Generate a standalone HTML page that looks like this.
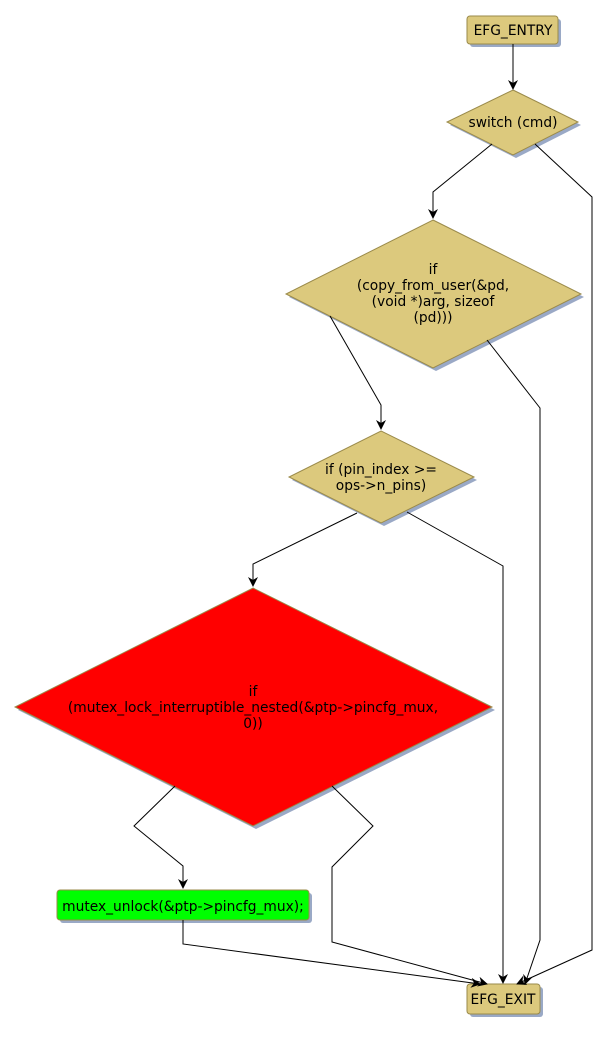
<!DOCTYPE html>
<html><head><style>body{margin:0;background:#fff}</style></head><body>
<svg width="607" height="1033" xmlns="http://www.w3.org/2000/svg" font-family="DejaVu Sans, sans-serif" font-size="13.8">
<defs><marker id="a" markerWidth="10" markerHeight="10" refX="9" refY="5" orient="auto" markerUnits="userSpaceOnUse"><path d="M0,0 L10,5 L0,10 L3,5 z" fill="#000"/></marker></defs>
<g fill="#9aa9c6">
<rect x="470" y="19" width="91" height="28" rx="3"/>
<polygon points="516,93 581,125 516,158 450,125"/>
<polygon points="436,223 584,297 436,371 289,297"/>
<polygon points="384,434 477,480 384,526 292,480"/>
<polygon points="256,591 495,710 256,829 18,710"/>
<rect x="60" y="893" width="252" height="30" rx="3"/>
<rect x="470" y="987" width="73" height="30" rx="3"/>
</g>
<g stroke="#9a8a4a" fill="#dcc97d">
<rect x="467" y="16" width="91" height="28" rx="3"/>
<polygon points="513,90 578,122 513,155 447,122"/>
<polygon points="433,220 581,294 433,368 286,294"/>
<polygon points="381,431 474,477 381,523 289,477"/>
<polygon points="253,588 492,707 253,826 15,707" fill="#ff0000"/>
<rect x="57" y="890" width="252" height="30" rx="3" fill="#00ff00"/>
<rect x="467" y="984" width="73" height="30" rx="3"/>
</g>
<g stroke="#000" fill="none" marker-end="url(#a)">
<path d="M513,44 L513,89"/>
<path d="M492,144 L433,192 L433,218"/>
<path d="M535,144 L592,197 L592,950 L517,984"/>
<path d="M330,316 L381,405 L381,429"/>
<path d="M487,340 L540,408 L540,940 L525,984"/>
<path d="M357,513 L253,564 L253,586"/>
<path d="M407,512 L503,566 L503,983"/>
<path d="M175,786 L134,826 L183,866 L183,888"/>
<path d="M332,786 L373,826 L332,867 L332,942 L487,984"/>
<path d="M183,920 L183,944 L480,984"/>
</g>
<g text-anchor="middle" fill="#000">
<text x="513" y="35">EFG_ENTRY</text>
<text x="513" y="127">switch (cmd)</text>
<text x="433" y="274">if</text>
<text x="433" y="290">(copy_from_user(&amp;pd,</text>
<text x="433" y="306">(void *)arg, sizeof</text>
<text x="433" y="322">(pd)))</text>
<text x="381" y="474">if (pin_index &gt;=</text>
<text x="381" y="490">ops-&gt;n_pins)</text>
<text x="253" y="696">if</text>
<text x="253" y="712">(mutex_lock_interruptible_nested(&amp;ptp-&gt;pincfg_mux,</text>
<text x="253" y="728">0))</text>
<text x="183" y="911">mutex_unlock(&amp;ptp-&gt;pincfg_mux);</text>
<text x="503" y="1004">EFG_EXIT</text>
</g>
</svg>
</body></html>
